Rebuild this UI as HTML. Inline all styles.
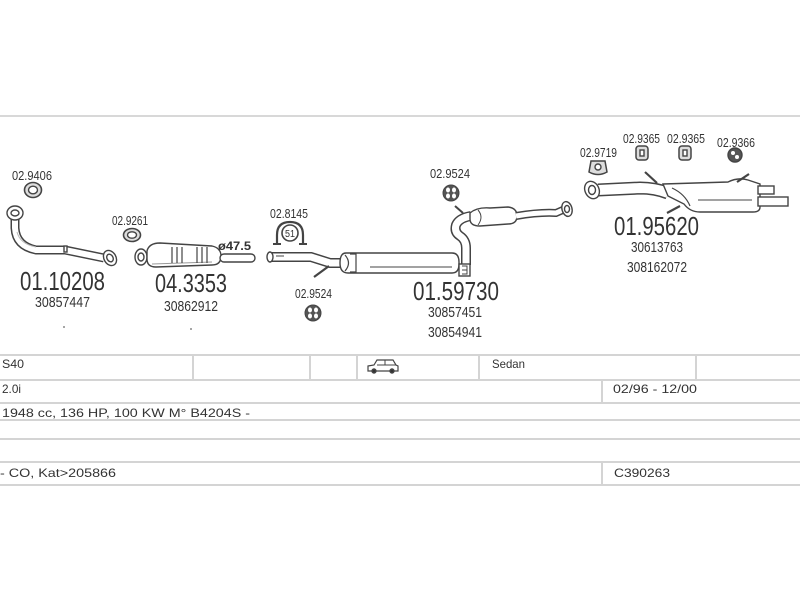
<!DOCTYPE html>
<html><head><meta charset="utf-8"><style>
html,body{margin:0;padding:0;background:#fff;}
svg{display:block;}
text{font-family:"Liberation Sans",Arial,sans-serif;fill:#333;}
</style></head><body>
<svg width="800" height="600" viewBox="0 0 800 600" xmlns="http://www.w3.org/2000/svg">
<rect width="800" height="600" fill="#fff"/>
<!-- top rule -->
<rect x="0" y="115" width="800" height="2" fill="#d8d8d8"/>

<g fill="none" stroke="#444" stroke-width="1.4">
<!-- ===== Front pipe 01.10208 ===== -->
<path d="M15,219 L15,228 Q16,246 36,250 L65,250 L104,258" stroke="#444" stroke-width="9"/>
<path d="M15,219 L15,228 Q16,246 36,250 L65,250 L104,258" stroke="#fff" stroke-width="6"/>
<path d="M17,232 Q20,244 36,247" stroke="#bbb" stroke-width="1"/>
<ellipse cx="15" cy="213" rx="8" ry="7" fill="#fff"/>
<ellipse cx="15" cy="213" rx="4" ry="3" fill="#fff"/>
<rect x="64" y="246" width="3" height="6" fill="#fff"/>
<ellipse cx="110" cy="258" rx="6" ry="8" fill="#fff" transform="rotate(-30 110 258)"/>
<ellipse cx="110" cy="258" rx="3" ry="4" fill="#fff" transform="rotate(-30 110 258)"/>

<!-- ring 02.9406 -->
<ellipse cx="33" cy="190" rx="8.5" ry="7.5" fill="#ddd" stroke-width="1.6"/>
<ellipse cx="33" cy="190" rx="4.5" ry="3.8" fill="#fff" stroke-width="1.4"/>
<!-- ring 02.9261 -->
<ellipse cx="132" cy="235" rx="8.5" ry="6.5" fill="#ddd" stroke-width="1.6"/>
<ellipse cx="132" cy="235" rx="4.5" ry="3.2" fill="#fff" stroke-width="1.4"/>

<!-- ===== Cat 04.3353 ===== -->
<ellipse cx="141" cy="257" rx="6" ry="8" fill="#fff"/>
<ellipse cx="141" cy="257" rx="3" ry="4" fill="#fff"/>
<path d="M147,251 Q149,243 160,243 L212,246 Q221,248 221,256 Q221,265 212,265 L156,267 Q147,267 147,259 Z" fill="#fff"/>
<path d="M152,264 L212,262" stroke="#999" stroke-width="1"/>
<path d="M172,247 L172,263 M177,247 L177,263 M182,247 L182,263 M197,247 L197,263 M202,247 L202,263 M207,247 L207,263" stroke-width="1.2"/>
<rect x="220" y="254" width="35" height="8" rx="4" fill="#fff"/>

<!-- clamp 02.8145 -->
<path d="M277,244 L277,235 Q277,222 290,222 Q303,222 303,235 L303,244" stroke-width="2.2"/>
<path d="M273,244 L281,244 M299,244 L307,244" stroke-width="2"/>
<circle cx="290" cy="233" r="8" fill="#fff" stroke-width="1.6"/>

<!-- ===== Mid section 01.59730 ===== -->
<path d="M270,257 L311,257 L330,263 L346,263" stroke="#444" stroke-width="10"/>
<path d="M270,257 L311,257 L330,263 L346,263" stroke="#fff" stroke-width="7"/>
<ellipse cx="270" cy="257" rx="3" ry="5" fill="#fff"/>
<path d="M276,256 L284,256" stroke-width="1"/>
<path d="M329,266 L314,277" stroke-width="2.2"/>
<path d="M346,253 L452,253 Q459,253 459,262 L459,264 Q459,273 452,273 L348,273 Q340,273 340,263 Q340,253 346,253 Z" fill="#fff"/>
<path d="M370,267 L452,267" stroke-width="1"/>
<path d="M350,254 L356,254 L356,272 L350,272 M345,255 Q352,263 345,271" stroke-width="1.2"/>
<!-- S curve up -->
<path d="M466,265 L466,248 Q466,240 460,236 Q454,232 456,225 Q459,218 471,216" stroke="#444" stroke-width="10"/>
<path d="M466,265 L466,248 Q466,240 460,236 Q454,232 456,225 Q459,218 471,216" stroke="#fff" stroke-width="7"/>
<rect x="459" y="264" width="11" height="12" fill="#fff"/>
<path d="M462,266 L467,266 L467,274 L462,274 M462,270 L467,270" stroke-width="1"/>
<!-- upper cat -->
<path d="M470,213 Q477,207 490,208 L508,207 Q517,208 517,216 Q517,224 508,224 L480,226 Q470,226 470,219 Z" fill="#fff"/>
<path d="M478,210 Q484,217 478,225" stroke-width="1"/>
<path d="M516,216 Q540,212 556,213 L565,209" stroke="#444" stroke-width="8"/>
<path d="M516,216 Q540,212 556,213 L565,209" stroke="#fff" stroke-width="5"/>
<ellipse cx="567" cy="209" rx="5" ry="7.5" fill="#fff" transform="rotate(-15 567 209)"/>
<ellipse cx="567" cy="209" rx="2.5" ry="3.5" fill="#fff"/>
<path d="M455,206 L463,213" stroke-width="2"/>

<!-- rubbers 02.9524 -->
<g stroke-width="1">
<circle cx="451" cy="193" r="8" fill="#555"/>
<circle cx="313" cy="313" r="8" fill="#555"/>
</g>
<g fill="#fff" stroke="none">
<ellipse cx="448" cy="190" rx="2" ry="2.5"/><ellipse cx="454" cy="190" rx="2" ry="2.5"/>
<ellipse cx="448" cy="196" rx="2" ry="2.5"/><ellipse cx="454" cy="196" rx="2" ry="2.5"/>
<ellipse cx="310" cy="310" rx="2" ry="2.5"/><ellipse cx="316" cy="310" rx="2" ry="2.5"/>
<ellipse cx="310" cy="316" rx="2" ry="2.5"/><ellipse cx="316" cy="316" rx="2" ry="2.5"/>
</g>

<!-- ===== Rear 01.95620 ===== -->
<path d="M598,190 L640,188 Q655,188 668,193" stroke="#444" stroke-width="13"/>
<path d="M598,190 L640,188 Q655,188 668,193" stroke="#fff" stroke-width="10"/>
<ellipse cx="592" cy="190" rx="7" ry="9" fill="#fff" transform="rotate(-25 592 190)"/>
<ellipse cx="592" cy="190" rx="3.5" ry="4.5" fill="#fff"/>
<path d="M663,184 L728,182 Q738,177 748,180 L760,184 L760,207 Q760,212 753,212 L700,212 Q690,212 684,204 L668,196 Z" fill="#fff"/>
<rect x="758" y="186" width="16" height="8" fill="#fff"/>
<rect x="758" y="197" width="30" height="9" fill="#fff"/>
<path d="M698,200 L752,200" stroke-width="1"/>
<path d="M672,188 Q685,194 690,206" stroke-width="1.2"/>
<path d="M645,172 L657,183" stroke-width="2.2"/>
<path d="M749,174 L737,182" stroke-width="2.2"/>
<path d="M667,213 L680,206" stroke-width="2.2"/>

<!-- rear hangers -->
<path d="M591,161 L605,161 L607,172 Q598,177 589,172 Z" fill="#ddd" stroke-width="1.5"/>
<ellipse cx="598" cy="167" rx="3" ry="3" fill="#fff"/>
<rect x="636" y="146" width="12" height="14" rx="3" fill="#ddd" stroke-width="1.5"/>
<rect x="640" y="150" width="4" height="6" fill="#fff"/>
<rect x="679" y="146" width="12" height="14" rx="3" fill="#ddd" stroke-width="1.5"/>
<rect x="683" y="150" width="4" height="6" fill="#fff"/>
<circle cx="735" cy="155" r="7" fill="#555"/>
<circle cx="733" cy="153" r="2" fill="#fff" stroke="none"/>
<circle cx="737" cy="157" r="2" fill="#fff" stroke="none"/>

<!-- car icon -->
<path d="M368,366 L374,365 L377,360 L393,360 L396,365 L398,366 L398,371 L368,371 Z" fill="#fff" stroke-width="1.2"/>
<path d="M385,360 L385,365 M377,365 L396,365" stroke-width="1"/>
<circle cx="374" cy="371" r="2" fill="#333"/>
<circle cx="392" cy="371" r="2" fill="#333"/>
</g>

<!-- dots -->
<circle cx="64" cy="327" r="0.9" fill="#666"/>
<circle cx="191" cy="329" r="0.9" fill="#666"/>

<!-- labels -->
<g font-size="13">
<text x="12" y="180" textLength="40" lengthAdjust="spacingAndGlyphs">02.9406</text>
<text x="112" y="225" textLength="36" lengthAdjust="spacingAndGlyphs">02.9261</text>
<text x="270" y="218" textLength="38" lengthAdjust="spacingAndGlyphs">02.8145</text>
<text x="295" y="298" textLength="37" lengthAdjust="spacingAndGlyphs">02.9524</text>
<text x="430" y="178" textLength="40" lengthAdjust="spacingAndGlyphs">02.9524</text>
<text x="580" y="157" textLength="37" lengthAdjust="spacingAndGlyphs">02.9719</text>
<text x="623" y="143" textLength="37" lengthAdjust="spacingAndGlyphs">02.9365</text>
<text x="667" y="143" textLength="38" lengthAdjust="spacingAndGlyphs">02.9365</text>
<text x="717" y="147" textLength="38" lengthAdjust="spacingAndGlyphs">02.9366</text>
</g>
<text x="285" y="237" font-size="10" textLength="10" lengthAdjust="spacingAndGlyphs">51</text>
<text x="218" y="250" font-size="12" font-weight="bold" textLength="33" lengthAdjust="spacingAndGlyphs">ø47.5</text>

<g font-size="26">
<text x="20" y="290" textLength="85" lengthAdjust="spacingAndGlyphs">01.10208</text>
<text x="155" y="292" textLength="72" lengthAdjust="spacingAndGlyphs">04.3353</text>
<text x="413" y="300" textLength="86" lengthAdjust="spacingAndGlyphs">01.59730</text>
<text x="614" y="235" textLength="85" lengthAdjust="spacingAndGlyphs">01.95620</text>
</g>
<g font-size="15">
<text x="35" y="307" textLength="55" lengthAdjust="spacingAndGlyphs">30857447</text>
<text x="164" y="311" textLength="54" lengthAdjust="spacingAndGlyphs">30862912</text>
<text x="428" y="317" textLength="54" lengthAdjust="spacingAndGlyphs">30857451</text>
<text x="428" y="337" textLength="54" lengthAdjust="spacingAndGlyphs">30854941</text>
<text x="631" y="252" textLength="52" lengthAdjust="spacingAndGlyphs">30613763</text>
<text x="627" y="272" textLength="60" lengthAdjust="spacingAndGlyphs">308162072</text>
</g>

<!-- table -->
<g fill="#d4d4d4">
<rect x="0" y="354" width="800" height="2"/>
<rect x="0" y="379" width="800" height="2"/>
<rect x="0" y="402" width="800" height="2"/>
<rect x="0" y="419" width="800" height="2"/>
<rect x="0" y="438" width="800" height="2"/>
<rect x="0" y="461" width="800" height="2"/>
<rect x="0" y="484" width="800" height="2"/>
<rect x="192" y="355" width="2" height="25"/>
<rect x="309" y="355" width="2" height="25"/>
<rect x="356" y="355" width="2" height="25"/>
<rect x="478" y="355" width="2" height="25"/>
<rect x="695" y="355" width="2" height="25"/>
<rect x="601" y="380" width="2" height="23"/>
<rect x="601" y="462" width="2" height="23"/>
</g>
<g font-size="12" style="fill:#222">
<text x="2" y="368" textLength="22" lengthAdjust="spacingAndGlyphs">S40</text>
<text x="492" y="368" textLength="33" lengthAdjust="spacingAndGlyphs">Sedan</text>
<text x="2" y="393" textLength="19" lengthAdjust="spacingAndGlyphs">2.0i</text>
<text x="613" y="393" textLength="84" lengthAdjust="spacingAndGlyphs">02/96 - 12/00</text>
<text x="2" y="417" textLength="248" lengthAdjust="spacingAndGlyphs">1948 cc, 136 HP, 100 KW M° B4204S -</text>
<text x="0" y="477" textLength="116" lengthAdjust="spacingAndGlyphs">- CO, Kat&gt;205866</text>
<text x="614" y="477" textLength="56" lengthAdjust="spacingAndGlyphs">C390263</text>
</g>
</svg>
</body></html>
